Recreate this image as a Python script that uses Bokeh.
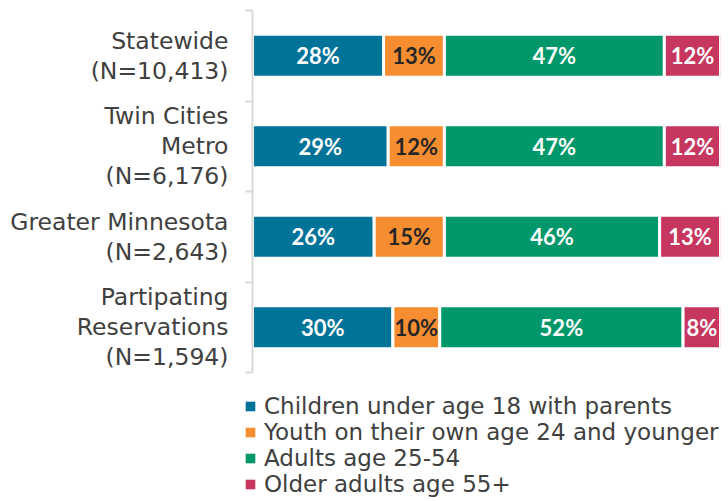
from bokeh.plotting import figure
from bokeh.models import Range1d, FixedTicker, Legend, LegendItem
from bokeh.core.properties import value
from bokeh.embed import file_html
from bokeh.resources import INLINE

categories = ["Statewide\n(N=10,413)", "Twin Cities\nMetro\n(N=6,176)",
              "Greater Minnesota\n(N=2,643)", "Partipating\nReservations\n(N=1,594)"]
series_names = ["Children under age 18 with parents",
                "Youth on their own age 24 and younger",
                "Adults age 25-54",
                "Older adults age 55+"]
children = [28, 29, 26, 30]
youth = [13, 12, 15, 10]
adults = [47, 47, 46, 52]
older = [12, 12, 13, 8]
series = [children, youth, adults, older]
colors = ["#007398", "#F68E31", "#00976A", "#C6365F"]
label_colors = ["white", "#262626", "white", "white"]

n = len(categories)
ypos = [n - i - 0.5 for i in range(n)]

p = figure(width=728, height=375, output_backend="svg", toolbar_location=None,
           x_range=Range1d(0, 100), y_range=Range1d(0, n),
           min_border_left=252, min_border_right=8, min_border_top=10,
           min_border_bottom=3)
p.outline_line_color = None
p.xgrid.visible = False
p.ygrid.visible = False
p.xaxis.visible = False

yax = p.yaxis[0]
yax.ticker = FixedTicker(ticks=ypos, minor_ticks=list(range(n + 1)))
yax.major_label_overrides = {y: c for y, c in zip(ypos, categories)}
yax.axis_line_color = "#D9D9D9"
yax.axis_line_width = 2
yax.major_tick_out = 0
yax.major_tick_in = 0
yax.minor_tick_out = 7
yax.minor_tick_in = 0
yax.minor_tick_line_color = "#D9D9D9"
yax.minor_tick_line_width = 2
yax.major_label_text_font = "DejaVu Sans"
yax.major_label_text_font_size = "23.5px"
yax.major_label_text_color = "#404040"
yax.major_label_text_line_height = 1.07
yax.major_label_standoff = 17

# separate legend figure placed under the chart
q = figure(width=728, height=126, output_backend="svg", toolbar_location=None,
           x_range=Range1d(0, 100), y_range=Range1d(n + 10, n + 11),
           min_border_left=236, min_border_right=0, min_border_top=0,
           min_border_bottom=0)
q.outline_line_color = None
q.xgrid.visible = False
q.ygrid.visible = False
q.xaxis.visible = False
q.yaxis.visible = False

left = [0] * n
items = []
for vals, col, lc, name in zip(series, colors, label_colors, series_names):
    right = [l + v for l, v in zip(left, vals)]
    p.hbar(y=ypos, left=left, right=right, height=0.475,
           fill_color=col, line_color="white", line_width=3)
    mids = [(l + r) / 2 for l, r in zip(left, right)]
    p.text(x=mids, y=ypos, text=[f"{v}%" for v in vals],
           text_align="center", text_baseline="middle",
           text_font=value("Lato"), text_font_style="bold",
           text_font_size="22px", text_color=lc)
    # legend swatch: markers at the bar centres, outside the legend panel's visible range
    swatch = q.scatter(x=mids, y=ypos, marker="square", size=10,
                       fill_color=col, line_color=None)
    items.append(LegendItem(label=name, renderers=[swatch]))
    left = right

legend = Legend(items=items, location=(2, 4), orientation="vertical",
                glyph_width=24, glyph_height=24, label_height=24, spacing=0,
                padding=0, margin=0, border_line_color=None,
                background_fill_alpha=0, label_standoff=2,
                label_text_font="DejaVu Sans", label_text_font_size="23px",
                label_text_line_height=1.0,
                label_text_color="#404040")
q.add_layout(legend, "center")

open("out.html", "w").write(file_html([p, q], INLINE))
